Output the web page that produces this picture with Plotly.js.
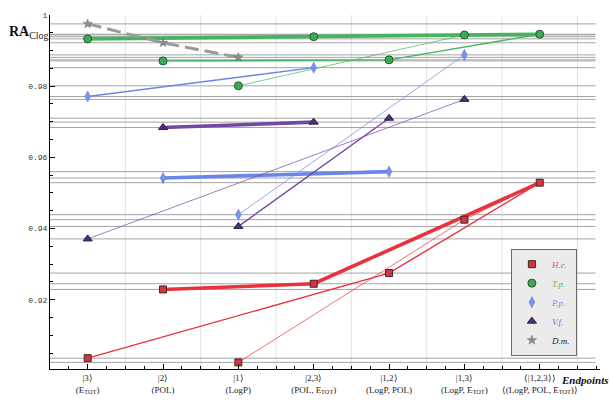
<!DOCTYPE html>
<html>
<head>
<meta charset="utf-8">
<script src="https://cdn.plot.ly/plotly-3.0.1.min.js"></script>
<style>
  html, body { margin: 0; padding: 0; background: #fff; }
  #chart { width: 615px; height: 411px; }
</style>
</head>
<body>
<div id="chart"></div>
<script>
// positions along the x axis and their two-line labels
const positions = [1, 2, 3, 4, 5, 6, 7];
const tickTop = ["|3⟩", "|2⟩", "|1⟩", "|2,3⟩", "|1,2⟩", "|1,3⟩", "⟨|1,2,3⟩⟩"];
const tickBottom = ["(E<sub>TOT</sub>)", "(POL)", "(LogP)", "(POL, E<sub>TOT</sub>)",
                    "(LogP, POL)", "(LogP, E<sub>TOT</sub>)", "⟨(LogP, POL, E<sub>TOT</sub>)⟩"];

// RA_Clog values per species (null = not shown)
const he = [0.9036, 0.9229, 0.9024, 0.9245, 0.9275, 0.9425, 0.9529];
const tp = [0.9933, 0.9871, 0.9801, 0.9939, 0.9874, 0.9944, 0.9946];
const pp = [0.9771, 0.9542, 0.9439, 0.9852, 0.9560, 0.9888, null];
const vf = [0.9371, 0.9684, 0.9406, 0.9699, 0.9710, 0.9763, null];
const dm = [0.9975, 0.9922, 0.9881, null, null, null, null];

// which positions each path visits (thick / medium / thin)
const hePaths = [[2, 4, 7], [1, 5, 7], [3, 6, 7]];
const tpPaths = [[1, 4, 7], [2, 5, 7], [3, 6, 7]];
const ppPaths = [[2, 5], [1, 4], [3, 6]];
const vfPaths = [[2, 4], [3, 5], [1, 6]];
const dmPath = [1, 2, 3];

const widths = [3.6, 1.4, 0.7];

const series = [
  {name: "H.e.", vals: he, paths: hePaths, color: "#e8323c", text: "#e0606c",
   marker: {symbol: "square", size: 7, color: "#d8343f", line: {color: "#3a2a2a", width: 1}}},
  {name: "T.p.", vals: tp, paths: tpPaths, color: "#46b45e", text: "#4dbb68",
   marker: {symbol: "circle", size: 8, color: "#3daa55", line: {color: "#1f5a2b", width: 1}}},
  {name: "P.p.", vals: pp, paths: ppPaths, color: "#6a86e8", text: "#7a8ef0",
   marker: {symbol: "diamond-tall", size: 8, color: "#7b93ee", line: {color: "#5a6fc8", width: 0.5}}},
  {name: "V.f.", vals: vf, paths: vfPaths, color: "#7446a6", text: "#8a66c0",
   marker: {symbol: "triangle-up", size: 8, color: "#4e2f7a", line: {color: "#2e1b4a", width: 1}}}
];

const traces = [];

series.forEach(s => {
  s.paths.forEach((p, k) => {
    traces.push({
      x: p, y: p.map(i => s.vals[i - 1]),
      mode: "lines", line: {color: s.color, width: widths[k]},
      hoverinfo: "skip", showlegend: false
    });
  });
});

// D.m. dashed path
traces.push({
  x: dmPath, y: dmPath.map(i => dm[i - 1]),
  mode: "lines", line: {color: "#9a9a9a", width: 3, dash: "14px,6px"},
  hoverinfo: "skip", showlegend: false
});

// markers (also used as legend entries)
series.forEach(s => {
  traces.push({
    x: positions, y: s.vals, mode: "markers", marker: s.marker,
    name: '<i><span style="color:' + s.text + '">' + s.name + '</span></i>'
  });
});
traces.push({
  x: positions, y: dm, mode: "markers",
  marker: {symbol: "star", size: 7, color: "#8c8c8c", line: {color: "#6a6a6a", width: 0.5}},
  name: '<i><span style="color:#222">D.m.</span></i>'
});

// horizontal grid lines at every value, vertical ones between positions
const shapes = [];
[he, tp, pp, vf, dm].forEach(arr => {
  arr.forEach(v => {
    if (v === null) return;
    shapes.push({type: "line", layer: "below", xref: "x", yref: "y",
      x0: 0.5, x1: 7.74, y0: v, y1: v, line: {color: "#a4a4a4", width: 1}});
  });
});
for (let g = 1.5; g < 8; g += 1) {
  shapes.push({type: "line", layer: "below", xref: "x", yref: "paper",
    x0: g, x1: g, y0: 0, y1: 1, line: {color: "#e2e2e2", width: 1}});
}

const layout = {
  width: 615, height: 411,
  margin: {l: 50, r: 15, t: 15, b: 42},
  paper_bgcolor: "#fff", plot_bgcolor: "#fff",
  showlegend: true,
  legend: {
    x: 0.838, y: 0.34, xanchor: "left", yanchor: "top",
    bgcolor: "#ebebeb", bordercolor: "#6a6a6a", borderwidth: 1,
    font: {family: "Liberation Serif", size: 9},
    tracegroupgap: 0, itemwidth: 30
  },
  xaxis: {
    range: [0.5, 7.8], showgrid: false, zeroline: false,
    showline: true, linecolor: "#000", linewidth: 1,
    tickvals: positions,
    ticktext: positions.map((p, i) => tickTop[i] + "<br>" + tickBottom[i]),
    ticks: "inside", ticklen: 5, tickcolor: "#000",
    minor: {dtick: 0.25, tick0: 0.5, ticks: "inside", ticklen: 3, tickcolor: "#000", showgrid: false},
    tickfont: {family: "Liberation Serif", size: 9, color: "#222"},
    ticklabelstandoff: 0
  },
  yaxis: {
    range: [0.90055, 1.0], showgrid: false, zeroline: false,
    showline: true, linecolor: "#000", linewidth: 1,
    tickvals: [0.92, 0.94, 0.96, 0.98, 1],
    ticktext: ["0.92", "0.94", "0.96", "0.98", "1"],
    ticks: "inside", ticklen: 5, tickcolor: "#000",
    minor: {dtick: 0.005, tick0: 0.9, ticks: "inside", ticklen: 3, tickcolor: "#000", showgrid: false},
    tickfont: {family: "Liberation Mono", size: 8, color: "#333"}
  },
  shapes: shapes,
  annotations: [
    {xref: "paper", yref: "paper", x: -0.078, y: 0.95, xanchor: "left", yanchor: "middle",
     showarrow: false, text: "<b>RA</b><sub>Clog</sub>",
     font: {family: "Liberation Serif", size: 14, color: "#111"}},
    {xref: "paper", yref: "paper", x: 1.018, y: -0.03, xanchor: "right", yanchor: "middle",
     showarrow: false, text: "<b><i>Endpoints</i></b>",
     font: {family: "Liberation Serif", size: 11, color: "#111"}}
  ]
};

Plotly.newPlot("chart", traces, layout, {staticPlot: true});
</script>
</body>
</html>
